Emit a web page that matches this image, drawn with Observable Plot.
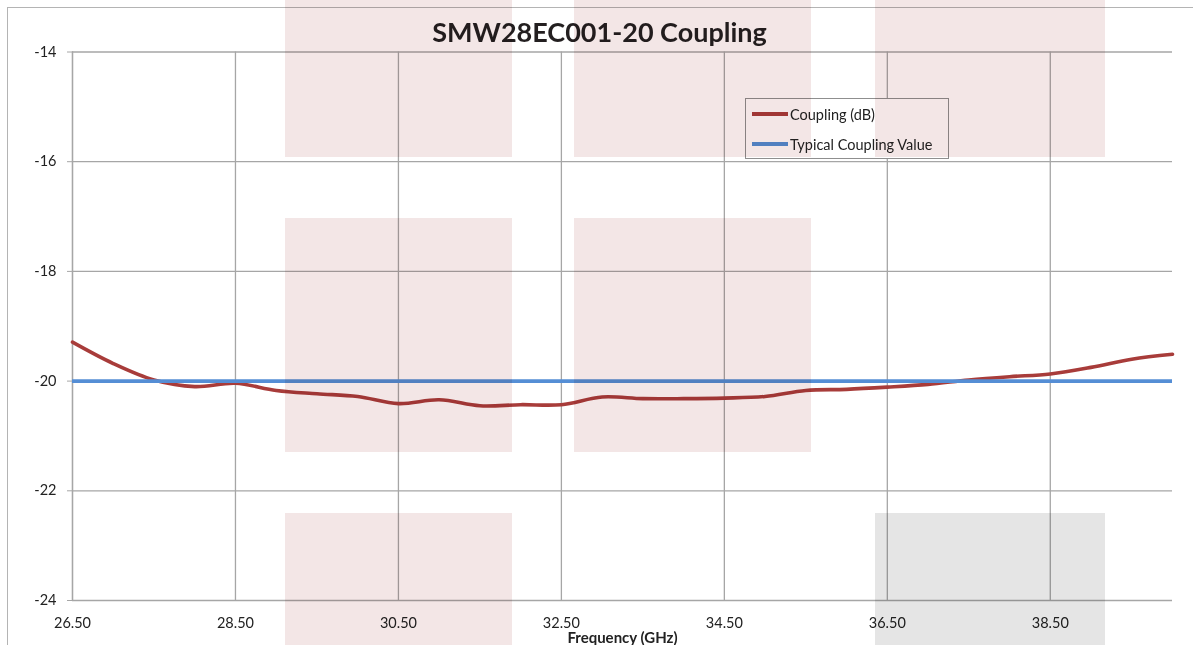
<!DOCTYPE html>
<html>
<head>
<meta charset="utf-8">
<script src="https://cdn.jsdelivr.net/npm/d3@7"></script>
<script src="https://cdn.jsdelivr.net/npm/@observablehq/plot@0.6"></script>
<style>
  html, body { margin: 0; padding: 0; background: #fff; }
  #wrap { position: relative; width: 1193px; height: 645px; overflow: hidden; font-family: Lato, "Open Sans", sans-serif; }
  #frame { position: absolute; left: 7px; top: 7px; width: 1300px; height: 800px; border: 1.5px solid #b4b4b4; box-sizing: border-box; }
  #title { position: relative; height: 44px; line-height: 64px; text-align: center; font-weight: bold; font-size: 27px; color: #231f20; padding-left: 6px; }
  #chart { position: relative; }
  #legend { position: absolute; left: 745px; top: 98px; width: 204px; height: 61px; border: 1.3px solid #8f8f8f; background: #fff; box-sizing: border-box; font-size: 14.5px; color: #222; }
  .lg { position: absolute; left: 6px; height: 20px; display: flex; align-items: center; }
  .lg span.sw { display: inline-block; width: 36px; height: 3.5px; margin-right: 2px; }
  .wm { position: absolute; mix-blend-mode: multiply; pointer-events: none; }
</style>
</head>
<body>
<div id="wrap">
  <div id="frame"></div>
  <div id="title">SMW28EC001-20 Coupling</div>
  <div id="chart"></div>
  <div id="legend"></div>
  <div id="wm"></div>
</div>
<script>
// ---- data ----
const freqGHz = [26.5, 27.0, 27.5, 28.0, 28.5, 29.0, 29.5, 30.0, 30.5, 31.0, 31.5, 32.0, 32.5, 33.0,
                 33.5, 34.0, 34.5, 35.0, 35.5, 36.0, 36.5, 37.0, 37.5, 38.0, 38.5, 39.0, 39.5, 40.0];
const couplingDb = [-19.29, -19.68, -19.98, -20.10, -20.04, -20.17, -20.23, -20.28, -20.41, -20.34,
                    -20.45, -20.43, -20.43, -20.29, -20.32, -20.32, -20.31, -20.28, -20.17, -20.15,
                    -20.11, -20.06, -19.98, -19.92, -19.87, -19.75, -19.60, -19.51];
const typicalCoupling = -20;
const xTicks = [26.5, 28.5, 30.5, 32.5, 34.5, 36.5, 38.5];
const yTicks = [-14, -16, -18, -20, -22, -24];
const seriesNames = ["Coupling (dB)", "Typical Coupling Value"];
const seriesColors = ["#a83c3a", "#558ed5"];

const rows = freqGHz.map((f, i) => ({f, v: couplingDb[i]}));

const W = 1193, H = 601;
const plot = Plot.plot({
  width: W, height: H,
  marginTop: 7.5, marginBottom: 45, marginLeft: 72, marginRight: 21,
  style: {fontFamily: "Lato, 'Open Sans', sans-serif", fontSize: "14.5px", color: "#222", background: "transparent", overflow: "visible"},
  x: {domain: [26.5, 40]},
  y: {domain: [-24, -14]},
  marks: [
    Plot.gridX(xTicks, {stroke: "#a6a6a6", strokeOpacity: 1, strokeWidth: 1.3}),
    Plot.gridY(yTicks, {stroke: "#a6a6a6", strokeOpacity: 1, strokeWidth: 1.3}),
    Plot.ruleX([26.5], {stroke: "#a6a6a6", strokeWidth: 1.3}),
    Plot.axisY({ticks: yTicks, tickSize: 5, tickPadding: 11, stroke: "#a6a6a6", tickFormat: d => String(d), label: null}),
    Plot.axisX({ticks: xTicks, tickSize: 0, tickPadding: 17, tickFormat: d => d.toFixed(2),
      label: "Frequency (GHz)", labelAnchor: "center", labelArrow: "none", labelOffset: 42}),
    Plot.line(rows, {x: "f", y: "v", stroke: seriesColors[0], strokeWidth: 3.6, curve: "catmull-rom"}),
    Plot.ruleY([typicalCoupling], {stroke: seriesColors[1], strokeWidth: 3.6})
  ]
});
document.getElementById("chart").appendChild(plot);
plot.querySelectorAll("g[aria-label='x-axis label'] text").forEach(t => { t.style.fontWeight = "bold"; t.style.fontSize = "15px"; });
plot.querySelectorAll("g[aria-label='x-axis tick label'] text, g[aria-label='y-axis tick label'] text").forEach(t => t.setAttribute("fill", "#222"));

// legend
const lg = document.getElementById("legend");
seriesNames.forEach((name, i) => {
  const d = document.createElement("div");
  d.className = "lg";
  d.style.top = (i === 0 ? 5 : 35) + "px";
  d.innerHTML = `<span class="sw" style="background:${seriesColors[i]}"></span>${name}`;
  lg.appendChild(d);
});

// background watermark decoration (multiply overlay)
const wmBlocks = [
  [285, 0, 227, 157, "#f3e6e6"], [574, 0, 237, 157, "#f3e6e6"], [875, 0, 230, 157, "#f3e6e6"],
  [285, 218, 227, 234, "#f3e6e6"], [574, 218, 237, 234, "#f3e6e6"],
  [285, 513, 227, 132, "#f3e6e6"], [875, 513, 230, 132, "#e5e5e5"]
];
const wm = document.getElementById("wm");
wmBlocks.forEach(([l, t, w, h, c]) => {
  const d = document.createElement("div");
  d.className = "wm";
  Object.assign(d.style, {left: l + "px", top: t + "px", width: w + "px", height: h + "px", background: c});
  wm.appendChild(d);
});
</script>
</body>
</html>
